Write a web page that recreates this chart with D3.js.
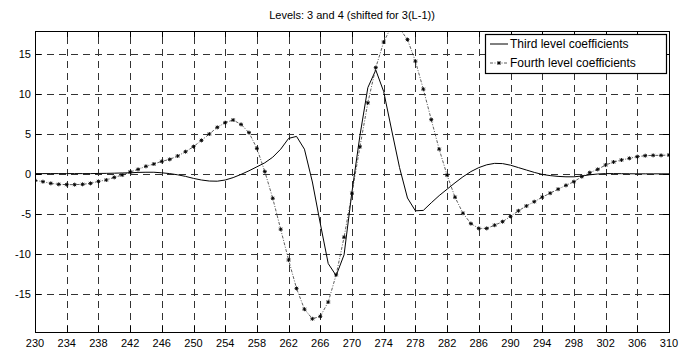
<!DOCTYPE html>
<html>
<head>
<meta charset="utf-8">
<script src="https://cdn.jsdelivr.net/npm/d3@7"></script>
<style>
  body { margin: 0; background: #fff; }
  svg { display: block; font-family: "Liberation Sans", Arial, sans-serif; }
</style>
</head>
<body>
<svg id="chart" width="697" height="356"></svg>
<script>
(function () {
  "use strict";

  const title = "Levels: 3 and 4 (shifted for 3(L-1))";
  const seriesNames = ["Third level coefficients", "Fourth level coefficients"];

  // sample positions 230..310
  const xs = d3.range(230, 311);

  const third = [
    0.05, 0.05, 0.05, 0.05, 0.05, 0.05, 0.05, 0.05, 0.07, 0.08,
    0.1, 0.13, 0.15, 0.2, 0.22, 0.22, 0.15, 0.05, -0.1, -0.3,
    -0.55, -0.75, -0.88, -0.9, -0.75, -0.45, -0.05, 0.4, 0.9, 1.4,
    2.1, 3.1, 4.45, 4.7, 3.1, -1.0, -6.2, -11.2, -12.7, -10.1,
    -2.2, 4.8, 10.8, 13.0, 10.3, 5.5, 0.8, -3.0, -4.6, -4.55,
    -3.6, -2.7, -1.9, -1.1, -0.35, 0.3, 0.8, 1.15, 1.33, 1.3,
    1.1, 0.8, 0.5, 0.2, -0.05, -0.2, -0.3, -0.35, -0.35, -0.25,
    -0.1, 0.0, 0.05, 0.05, 0.04, 0.03, 0.02, 0.02, 0.02, 0.02,
    0.02
  ];

  const fourth = [
    -0.8, -0.96, -1.17, -1.29, -1.33, -1.33, -1.29, -1.17, -0.92, -0.75,
    -0.42, -0.13, 0.25, 0.58, 0.96, 1.25, 1.58, 1.83, 2.25, 2.79,
    3.42, 4.2, 5.0, 5.83, 6.42, 6.75, 6.2, 5.17, 3.2, 0.3,
    -3.04, -6.9, -10.75, -14.3, -16.9, -18.1, -17.8, -16.0, -12.6, -7.9,
    -2.4, 3.4, 8.9, 13.3, 16.5, 18.5, 18.2, 16.8, 14.1, 10.6,
    6.8, 3.1, -0.15, -2.9, -4.9, -6.2, -6.8, -6.8, -6.4, -5.96,
    -5.3, -4.6, -4.0, -3.46, -2.9, -2.4, -1.9, -1.42, -0.96, -0.33,
    0.17, 0.58, 1.12, 1.5, 1.75, 1.96, 2.17, 2.29, 2.33, 2.33,
    2.37
  ];

  const xTicks = d3.range(230, 311, 4);
  const yTicks = [-15, -10, -5, 0, 5, 10, 15];

  const svg = d3.select("#chart");
  const left = 35, right = 669, top = 31, bottom = 332;

  const x = d3.scaleLinear().domain([230, 310]).range([left, right]);
  const y = d3.scaleLinear().domain([-19.75, 17.875]).range([bottom, top]);

  svg.append("defs").append("clipPath").attr("id", "plotclip")
    .append("rect")
    .attr("x", left).attr("y", top)
    .attr("width", right - left).attr("height", bottom - top);

  // grid
  const grid = svg.append("g").attr("class", "grid")
    .attr("stroke", "#333").attr("stroke-width", 1)
    .attr("stroke-dasharray", "7,5").attr("shape-rendering", "crispEdges");
  grid.selectAll("line.v")
    .data(xTicks.slice(1, -1))
    .join("line")
    .attr("class", "v")
    .attr("x1", (d) => Math.round(x(d)) + 0.5).attr("x2", (d) => Math.round(x(d)) + 0.5)
    .attr("y1", bottom).attr("y2", top);
  grid.selectAll("line.h")
    .data(yTicks)
    .join("line")
    .attr("class", "h")
    .attr("x1", left).attr("x2", right)
    .attr("y1", (d) => Math.round(y(d)) + 0.5).attr("y2", (d) => Math.round(y(d)) + 0.5);

  // series
  const plot = svg.append("g").attr("clip-path", "url(#plotclip)");
  const line = d3.line().x((d, i) => x(xs[i])).y((d) => y(d));

  plot.append("path")
    .datum(third)
    .attr("fill", "none")
    .attr("stroke", "#000")
    .attr("stroke-width", 1)
    .attr("d", line);

  plot.append("path")
    .datum(fourth)
    .attr("fill", "none")
    .attr("stroke", "#333")
    .attr("stroke-width", 0.8)
    .attr("stroke-dasharray", "3,1.5,1,1.5")
    .attr("d", line);

  const star = "M-2,0H2M0,-2V2M-1.5,-1.5L1.5,1.5M-1.5,1.5L1.5,-1.5";
  plot.append("g")
    .selectAll("path")
    .data(fourth)
    .join("path")
    .attr("transform", (d, i) => `translate(${x(xs[i])},${y(d)})`)
    .attr("d", star)
    .attr("stroke", "#000")
    .attr("stroke-width", 0.9);

  // axes box and inward ticks
  const frame = svg.append("g").attr("stroke", "#000").attr("shape-rendering", "crispEdges");
  frame.append("rect")
    .attr("x", left + 0.5).attr("y", top + 0.5)
    .attr("width", right - left).attr("height", bottom - top)
    .attr("fill", "none").attr("stroke-width", 1);
  xTicks.forEach((t) => {
    const px = Math.round(x(t)) + 0.5;
    frame.append("line").attr("x1", px).attr("x2", px).attr("y1", bottom).attr("y2", bottom - 6);
    frame.append("line").attr("x1", px).attr("x2", px).attr("y1", top).attr("y2", top + 6);
  });
  yTicks.forEach((t) => {
    const py = Math.round(y(t)) + 0.5;
    frame.append("line").attr("x1", left).attr("x2", left + 6).attr("y1", py).attr("y2", py);
    frame.append("line").attr("x1", right).attr("x2", right - 6).attr("y1", py).attr("y2", py);
  });

  // tick labels
  svg.append("g").selectAll("text")
    .data(xTicks)
    .join("text")
    .attr("x", (d) => x(d))
    .attr("y", bottom + 15)
    .attr("text-anchor", "middle")
    .attr("font-size", 11)
    .text((d) => d);

  svg.append("g").selectAll("text")
    .data(yTicks)
    .join("text")
    .attr("x", left - 4)
    .attr("y", (d) => y(d) + 4)
    .attr("text-anchor", "end")
    .attr("font-size", 11)
    .text((d) => d);

  svg.append("text")
    .attr("x", 352)
    .attr("y", 19)
    .attr("text-anchor", "middle")
    .attr("font-size", 11)
    .text(title);

  // legend
  const lg = svg.append("g");
  lg.append("rect")
    .attr("x", 485.5).attr("y", 34.5)
    .attr("width", 181).attr("height", 39)
    .attr("fill", "#fff").attr("stroke", "#000").attr("stroke-width", 1.2);
  lg.append("line")
    .attr("x1", 490).attr("x2", 508).attr("y1", 44).attr("y2", 44)
    .attr("stroke", "#000");
  lg.append("line")
    .attr("x1", 490).attr("x2", 508).attr("y1", 63).attr("y2", 63)
    .attr("stroke", "#333").attr("stroke-width", 0.8).attr("stroke-dasharray", "3,1.5,1,1.5");
  lg.append("path")
    .attr("transform", "translate(499,63)")
    .attr("d", star).attr("stroke", "#000").attr("stroke-width", 0.9);
  lg.selectAll("text.item")
    .data(seriesNames)
    .join("text")
    .attr("class", "item")
    .attr("x", 510)
    .attr("y", (d, i) => 48 + i * 19)
    .attr("font-size", 12)
    .text((d) => d);
})();
</script>
</body>
</html>
